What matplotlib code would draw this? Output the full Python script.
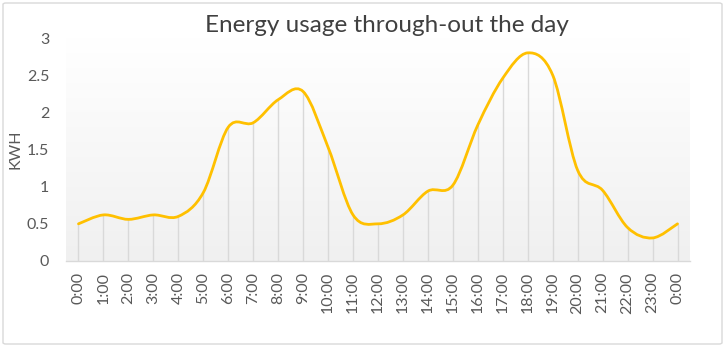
import numpy as np
import matplotlib
matplotlib.use("Agg")
import matplotlib.pyplot as plt
from matplotlib.path import Path
from matplotlib.patches import PathPatch, FancyBboxPatch

hours = ["0:00", "1:00", "2:00", "3:00", "4:00", "5:00", "6:00", "7:00", "8:00",
         "9:00", "10:00", "11:00", "12:00", "13:00", "14:00", "15:00", "16:00",
         "17:00", "18:00", "19:00", "20:00", "21:00", "22:00", "23:00", "0:00"]
kwh = [0.50, 0.62, 0.56, 0.62, 0.60, 0.92, 1.80, 1.86, 2.17, 2.28, 1.53, 0.62,
       0.50, 0.62, 0.94, 1.02, 1.83, 2.46, 2.80, 2.50, 1.22, 0.95, 0.45, 0.31, 0.50]
yticks = [0, 0.5, 1, 1.5, 2, 2.5, 3]
ytick_labels = ["0", "0.5", "1", "1.5", "2", "2.5", "3"]
title = "Energy usage through-out the day"
ylabel = "KWH"

plt.rcParams['font.family'] = ['Lato', 'DejaVu Sans']
txt = '#595959'

fig = plt.figure(figsize=(7.25, 3.47), dpi=100)
fig.patch.set_facecolor('white')
border = FancyBboxPatch((3 / 725, 3 / 347), 719 / 725, 341 / 347,
                        boxstyle="round,pad=0,rounding_size=0.004",
                        transform=fig.transFigure, facecolor='none',
                        edgecolor='#d9d9d9', linewidth=1.0)
fig.patches.append(border)

ax = fig.add_axes([66 / 725, 1 - 261 / 347, 624 / 725, 223 / 347])
x = np.arange(len(kwh))
ax.set_xlim(-0.5, len(kwh) - 0.5)
ax.set_ylim(0, 3)

# gradient background
grad = np.linspace(1.0, 0.0, 256).reshape(-1, 1)
top = np.array([1.0, 1.0, 1.0])
bot = np.array([0xF0, 0xF0, 0xF0]) / 255
img = top[None, None, :] * grad[:, :, None] + bot[None, None, :] * (1 - grad[:, :, None])
ax.imshow(img, extent=[0, 1, 0, 1], transform=ax.transAxes, aspect='auto', zorder=0)

# drop lines
ax.vlines(x, 0, kwh, colors='#d9d9d9', linewidth=1.0, zorder=1)

# smoothed line (Catmull-Rom style bezier like Excel)
y = np.array(kwh, dtype=float)
verts = [(x[0], y[0])]
codes = [Path.MOVETO]
n = len(y)
for i in range(n - 1):
    p0 = (x[max(i - 1, 0)], y[max(i - 1, 0)])
    p1 = (x[i], y[i])
    p2 = (x[i + 1], y[i + 1])
    p3 = (x[min(i + 2, n - 1)], y[min(i + 2, n - 1)])
    c1 = (p1[0] + (p2[0] - p0[0]) / 6, p1[1] + (p2[1] - p0[1]) / 6)
    c2 = (p2[0] - (p3[0] - p1[0]) / 6, p2[1] - (p3[1] - p1[1]) / 6)
    verts += [c1, c2, p2]
    codes += [Path.CURVE4] * 3
ax.add_patch(PathPatch(Path(verts, codes), facecolor='none', edgecolor='#FFC000',
                       linewidth=2.0, zorder=3, capstyle='round', joinstyle='round'))

for s in ['top', 'right', 'left']:
    ax.spines[s].set_visible(False)
ax.spines['bottom'].set_color('#d9d9d9')
ax.spines['bottom'].set_linewidth(1.0)

ax.set_yticks(yticks)
ax.set_yticklabels(ytick_labels)
ax.set_xticks(x)
ax.set_xticklabels(hours, rotation=90)
ax.tick_params(axis='both', length=0, colors=txt, labelsize=11.5)
ax.tick_params(axis='y', pad=12)
ax.tick_params(axis='x', pad=8)

ax.set_ylabel(ylabel, color=txt, fontsize=11.5, labelpad=3)
fig.text(387 / 725, 1 - 26 / 347, title, ha='center', va='center', fontsize=17.5, color='#404040')

fig.savefig('out.png', dpi=100)
